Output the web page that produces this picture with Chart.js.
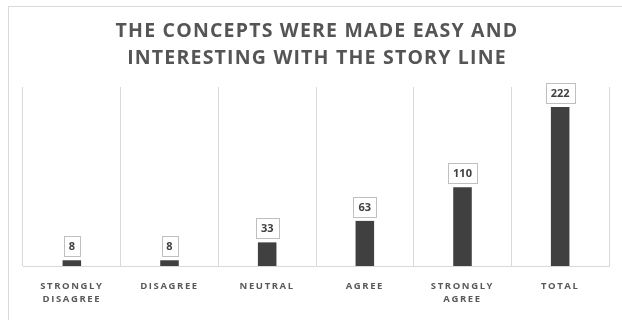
<!DOCTYPE html>
<html>
<head>
<meta charset="utf-8">
<script src="https://cdn.jsdelivr.net/npm/chart.js@4"></script>
<style>
  html, body { margin: 0; padding: 0; background: #ffffff; }
  #wrap { position: relative; width: 622px; height: 320px; overflow: hidden; background: #ffffff; }
  #frame { position: absolute; left: 8px; top: 6px; width: 660px; height: 360px; border: 1px solid #d9d9d9; box-sizing: border-box; }
  canvas { position: absolute; left: 0; top: 0; }
</style>
</head>
<body>
<div id="wrap">
  <div id="frame"></div>
  <canvas id="chart" width="622" height="320"></canvas>
</div>
<script>
// Survey responses
const titleLines = ['THE CONCEPTS WERE MADE EASY AND', 'INTERESTING WITH THE STORY LINE'];
const categories = [['STRONGLY', 'DISAGREE'], 'DISAGREE', 'NEUTRAL', 'AGREE', ['STRONGLY', 'AGREE'], 'TOTAL'];
const responses = [8, 8, 33, 63, 110, 222];
const axisMax = 250;

// Two-line heading drawn above the plot
const headingPlugin = {
  id: 'heading',
  afterDraw(chart) {
    const ctx = chart.ctx;
    ctx.save();
    ctx.letterSpacing = '1.2px';
    ctx.font = 'bold 19.5px "Open Sans"';
    ctx.fillStyle = '#555555';
    ctx.textAlign = 'center';
    ctx.textBaseline = 'alphabetic';
    ctx.fillText(titleLines[0], 317, 37);
    ctx.fillText(titleLines[1], 317, 64);
    ctx.restore();
  }
};

// Boxed value labels above each bar
const boxedLabels = {
  id: 'boxedLabels',
  afterDatasetsDraw(chart) {
    const ctx = chart.ctx;
    const meta = chart.getDatasetMeta(0);
    ctx.save();
    ctx.font = 'bold 11px "Open Sans"';
    ctx.textAlign = 'center';
    ctx.textBaseline = 'middle';
    meta.data.forEach((bar, i) => {
      const txt = String(chart.data.datasets[0].data[i]);
      const w = Math.round(ctx.measureText(txt).width) + 10;
      const h = 20;
      const x = Math.round(bar.x - w / 2) + 0.5;
      const y = Math.round(bar.y - 4 - h) + 0.5;
      ctx.fillStyle = '#ffffff';
      ctx.fillRect(x, y, w, h);
      ctx.strokeStyle = '#bfbfbf';
      ctx.lineWidth = 1;
      ctx.strokeRect(x, y, w, h);
      ctx.fillStyle = '#404040';
      ctx.fillText(txt, bar.x, y + h / 2 + 0.5);
    });
    ctx.restore();
  }
};

// Letter-spaced category labels
const spacedTicks = {
  id: 'spacedTicks',
  beforeDraw(chart) { chart.ctx.save(); chart.ctx.letterSpacing = '1.6px'; },
  beforeDatasetsDraw(chart) { chart.ctx.restore(); }
};

new Chart(document.getElementById('chart'), {
  type: 'bar',
  data: {
    labels: categories,
    datasets: [{
      data: responses,
      backgroundColor: '#404040',
      borderWidth: 0,
      barPercentage: 0.19,
      categoryPercentage: 1
    }]
  },
  options: {
    responsive: false,
    animation: false,
    devicePixelRatio: 1,
    layout: { padding: { left: 23, right: 13, top: 87, bottom: 0 } },
    plugins: {
      legend: { display: false },
      tooltip: { enabled: false },
      title: { display: false }
    },
    scales: {
      x: {
        offset: true,
        grid: {
          offset: true,
          color: '#d9d9d9',
          lineWidth: 1,
          drawTicks: false
        },
        border: { display: true, color: '#d9d9d9', width: 1 },
        ticks: {
          padding: 13,
          color: '#595959',
          maxRotation: 0,
          autoSkip: false,
          font: { family: '"Open Sans"', size: 9.5, weight: 'bold', lineHeight: 1.45 }
        },
        afterFit(scale) { scale.height = 54; }
      },
      y: {
        display: false,
        min: 0,
        max: axisMax
      }
    }
  },
  plugins: [spacedTicks, boxedLabels, headingPlugin]
});
</script>
</body>
</html>
